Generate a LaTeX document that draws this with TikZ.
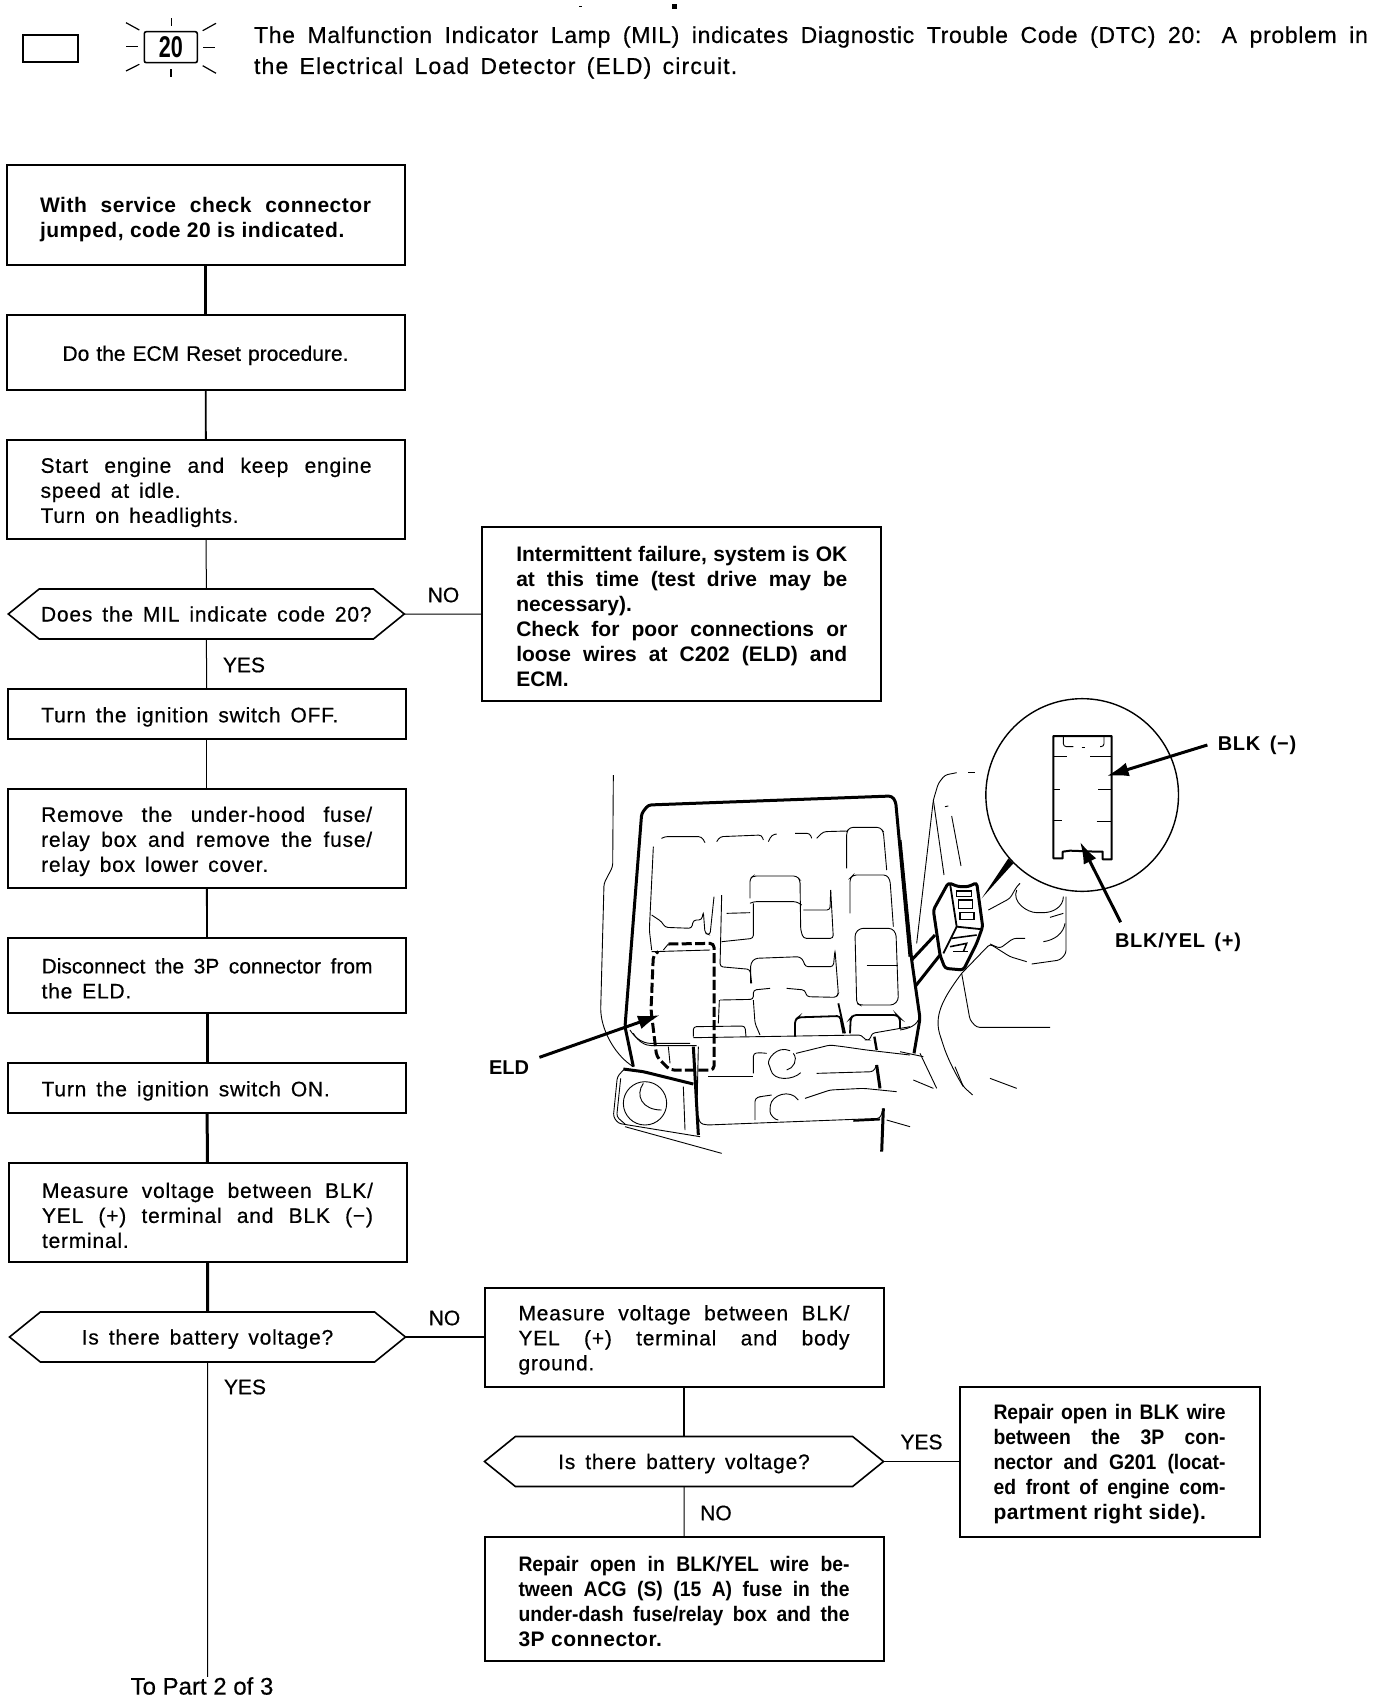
\documentclass[tikz,border=0pt]{standalone}
\usepackage{fontspec}
\setmainfont[LetterSpace=3.7,WordSpace=1.5,UprightFeatures={FakeBold=0.5}]{Liberation Sans}
\newfontfamily\plainfont[UprightFeatures={FakeBold=0.5}]{Liberation Sans}
\newfontfamily\notefont[LetterSpace=3,UprightFeatures={FakeBold=0.5}]{Liberation Sans}
\newfontfamily\notewide[LetterSpace=5,WordSpace=1.5,UprightFeatures={FakeBold=0.5}]{Liberation Sans}
\newfontfamily\jumpfont[LetterSpace=2.5]{Liberation Sans}
\newfontfamily\lampfont[FakeStretch=0.72]{Liberation Sans}
\newfontfamily\repairfont[FakeStretch=0.92]{Liberation Sans}
\usetikzlibrary{arrows.meta,positioning,shapes.symbols}

\begin{document}
\begin{tikzpicture}[x=0.5pt,y=-0.5pt,node distance=25pt,>=Latex,
    textdrop/.style={execute at begin node={\rule{0pt}{#1}}},
    stepbox/.style={draw,line width=1pt,outer sep=0pt,inner xsep=0pt,inner ysep=0pt,minimum width=199pt,text width=165.5pt,align=justify,textdrop=10.5pt,font=\fontsize{10.5}{12.5}\selectfont},
    boldbox/.style={stepbox,textdrop=0pt,font=\fontsize{10.5}{12.5}\selectfont\plainfont\bfseries},
    fixbox/.style={stepbox,textdrop=9.5pt,font=\fontsize{10.5}{12.5}\selectfont\bfseries},
    askbox/.style={draw,line width=.8pt,outer sep=0pt,inner sep=0pt,signal,signal to=west and east,signal pointer angle=78,minimum width=198pt,minimum height=25pt,text height=7.5pt,text depth=0pt,font=\fontsize{10.5}{12.5}\selectfont},
    answer/.style={inner sep=0pt,font=\fontsize{10.5}{12.5}\selectfont\plainfont},
    callout/.style={inner sep=5pt,font=\fontsize{10}{12}\selectfont\bfseries},
    leader/.style={->,line width=1.5pt,>={Latex[length=11pt,width=7pt]}},
    wirethin/.style={line width=.5pt},
    wiremid/.style={line width=.9pt},
    wirefat/.style={line width=1.5pt},
    sketch/.style={line width=.45pt,rounded corners=1.5pt},
    heavy/.style={line width=1.5pt,rounded corners=1.5pt},
    eldmark/.style={line width=1.5pt,rounded corners=2pt,dash pattern=on 5pt off 1.7pt}]
  \useasboundingbox (0,0) rectangle (1376,1700);

  \node[draw,line width=1.4pt,minimum width=27.5pt,minimum height=13.5pt,inner sep=0pt] (lampkey) at (50.5,48.5) {};
  \node[draw,line width=.8pt,rounded corners=1pt,minimum width=26.5pt,minimum height=15.5pt,inner sep=0pt,font=\fontsize{15}{15}\selectfont\lampfont\bfseries] (codeflash) at (170.8,47.2) {20};
  \foreach \xa/\ya/\xb/\yb in {171.3/18.3/171.3/26,171/69.3/171/77.3,126/46.7/138.3/46.7,203.3/47.7/215/47.7,126/22.7/139.3/30,202.7/30.7/216/23.3,126/71/139.3/64.3,202.7/65.7/216/73.3}
    \draw[line width=.6pt] (\xa,\ya) -- (\xb,\yb);
  \node[text width=557pt,align=justify,inner sep=0pt,font=\fontsize{11.5}{15.5}\selectfont] (lampnote) at (811,52.5) {\notefont The Malfunction Indicator Lamp (MIL) indicates Diagnostic Trouble Code (DTC) 20: A problem in\linebreak {\notewide the Electrical Load Detector (ELD) circuit.}};
  \fill (672,4) rectangle (677,9);
  \fill (579,6) rectangle (582,7);

  \node[boldbox,textdrop=12pt,minimum height=50pt,font=\fontsize{10.5}{12.5}\selectfont\jumpfont\bfseries] (jumped) at (205.5,215) {With service check connector\linebreak jumped, code 20 is indicated.};
  \node[stepbox,textdrop=0pt,minimum height=37.5pt,below=of jumped,align=center] (reset) {\plainfont Do the ECM Reset procedure.};
  \node[stepbox,minimum height=49.5pt,below=of reset,xshift=.3pt] (idle) {Start engine and keep engine\linebreak speed at idle.\\Turn on headlights.};
  \node[askbox,below=of idle,xshift=.1pt] (askcode) {Does the MIL indicate code 20?};
  \node[stepbox,minimum height=25pt,below=of askcode,xshift=.2pt] (ignoff) {Turn the ignition switch OFF.};
  \node[stepbox,minimum height=49.5pt,below=of ignoff] (cover) {Remove the under-hood fuse/\linebreak relay box and remove the fuse/\linebreak relay box lower cover.};
  \node[stepbox,minimum height=37.5pt,below=of cover,xshift=.2pt] (unplug) {{\plainfont Disconnect the 3P connector from}\linebreak the ELD.};
  \node[stepbox,minimum height=25pt,below=of unplug] (ignon) {Turn the ignition switch ON.};
  \node[stepbox,minimum height=49.5pt,below=of ignon,xshift=.2pt] (measure) {Measure voltage between BLK/\linebreak YEL (+) terminal and BLK (−)\linebreak terminal.};
  \node[askbox,below=of measure] (askbatt) {Is there battery voltage?};
  \node[inner sep=0pt,font=\fontsize{12}{14}\selectfont\plainfont] (nextpart) at (202,1686) {To Part 2 of 3};

  \node[boldbox,minimum width=199.5pt,minimum height=87pt,right=39pt of askcode] (okfail) {Intermittent failure, system is OK\linebreak at this time (test drive may be\linebreak necessary).\\Check for poor connections or\linebreak loose wires at C202 (ELD) and\linebreak ECM.};
  \node[stepbox,minimum width=199.5pt,minimum height=49.5pt,right=39.5pt of askbatt] (bodyground) {Measure voltage between BLK/\linebreak YEL (+) terminal and body\linebreak ground.};
  \node[askbox,below=of bodyground,minimum width=199.5pt] (askbody) {Is there battery voltage?};
  \node[fixbox,minimum width=199.5pt,minimum height=62pt,below=of askbody] (fixyel) {{\repairfont Repair open in BLK/YEL wire be-}\linebreak {\repairfont tween ACG (S) (15 A) fuse in the}\linebreak {\repairfont under-dash fuse/relay box and the}\linebreak {\jumpfont 3P connector.}};
  \node[fixbox,minimum width=150pt,text width=116pt,minimum height=75pt,right=38pt of askbody] (fixblk) {{\repairfont Repair open in BLK wire}\linebreak {\repairfont between the 3P con-}\linebreak {\repairfont nector and G201 (locat-}\linebreak {\repairfont ed front of engine com-}\linebreak {\jumpfont partment right side).}};

  \draw[wirefat] (jumped) -- (reset);
  \draw[wiremid] (reset) -- (idle);
  \draw[wirethin] (idle) -- (askcode);
  \draw[wirethin] (askcode) -- (ignoff);
  \draw[wirethin] (ignoff) -- (cover);
  \draw[wiremid] (cover) -- (unplug);
  \draw[wirefat] (unplug) -- (ignon);
  \draw[wirefat] (ignon) -- (measure);
  \draw[wirefat] (measure) -- (askbatt);
  \draw[wirethin] (askbatt) -- (askbatt |- nextpart.north);
  \draw[wirethin] (askcode) -- (okfail);
  \draw[wiremid] (askbatt) -- (bodyground);
  \draw[wiremid] (bodyground) -- (askbody);
  \draw[wirethin] (askbody) -- (fixyel);
  \draw[wiremid] (askbody) -- (fixblk);

  \node[answer] (nocode) at (443.5,595) {NO};
  \node[answer] (yescode) at (244,665) {YES};
  \node[answer] (nobatt) at (444.5,1318) {NO};
  \node[answer] (yesbatt) at (245,1387) {YES};
  \node[answer] (yesbody) at (921.5,1442) {YES};
  \node[answer] (nobody) at (716,1513) {NO};

  \begin{scope}[shift={(590,770)},x=0.16667pt,y=-0.16667pt]
    \draw[heavy] (130,890) -- (105,770) -- (155,130) -- (175,105) -- (905,78) -- (917,95) -- (960,560);
    \draw[heavy] (100,897) -- (160,905) -- (310,942);
    \draw[heavy] (310,830) -- (325,1095);
    \draw[sketch] (70,15) -- (68,290) -- (42,340) -- (32,720) .. controls (38,790) and (80,860) .. (130,890);
    \draw[sketch] (100,900) -- (82,920) -- (70,1040) -- (85,1060) -- (330,1100);
    \draw[sketch] (92,925) -- (80,1040) -- (105,1062);
    \draw[sketch] (165,1000) circle [radius=65];
    \draw[sketch] (160,940) .. controls (135,975) and (155,1020) .. (215,1020);
    \draw[sketch] (280,950) -- (285,1080);
    \draw[sketch] (105,1070) -- (395,1150);
    \draw[sketch] (190,230) -- (178,480) -- (185,540);
    \draw[sketch] (215,205) -- (222,200) -- (335,200) -- (345,218);
    \draw[sketch] (380,215) -- (390,200) -- (515,195) -- (520,210);
    \draw[sketch] (535,215) -- (545,195) -- (560,192);
    \draw[sketch] (615,190) -- (660,190) -- (665,205);
    \draw[sketch] (680,205) -- (700,185) -- (770,183);
    \draw[sketch] (770,295) -- (770,185) -- (780,172) -- (870,172) -- (880,185) -- (890,300);
    \draw[sketch] (480,385) -- (480,325) -- (490,318) -- (620,318) -- (630,330) -- (632,480) -- (640,505) -- (730,505) -- (722,360);
    \draw[sketch] (640,420) -- (720,420) -- (722,360);
    \draw[sketch] (480,400) -- (490,395) -- (620,395) -- (635,405);
    \draw[sketch] (490,400) -- (490,505) -- (395,515);
    \draw[sketch] (395,375) -- (390,590) -- (480,598) -- (485,640);
    \draw[sketch] (410,430) -- (480,428);
    \draw[sketch] (482,640) -- (482,580) -- (495,565) -- (630,560) -- (642,575) -- (645,590) -- (730,590) -- (735,540) -- (745,670) -- (740,682) -- (650,680) -- (645,660) -- (590,655);
    \draw[sketch] (390,690) -- (490,688) -- (490,660) -- (540,655);
    \draw[sketch] (490,690) -- (495,760) -- (510,795);
    \draw[sketch] (388,690) -- (385,760);
    \draw[line width=.9pt] (745,700) -- (765,790);
    \draw[sketch] (780,430) -- (780,325) -- (790,315) -- (890,315) -- (900,330) -- (910,470);
    \draw[sketch] (800,700) -- (795,490) -- (810,475) -- (905,475) -- (918,490) -- (925,690) -- (910,705) -- (810,705) -- cycle;
    \draw[sketch] (830,585) -- (925,585);
    \draw[sketch,line width=.9pt] (615,800) -- (615,750) -- (625,742) -- (750,738) -- (760,790);
    \draw[sketch,line width=.9pt] (780,790) -- (782,745) -- (790,735) -- (920,735) -- (930,745) -- (930,775);
    \draw[sketch] (120,780) .. controls (135,805) and (160,820) .. (190,820) -- (300,820);
    \draw[sketch] (130,790) .. controls (145,815) and (165,827) .. (195,827) -- (320,827);
    \draw[sketch] (310,800) -- (310,770) -- (465,768) -- (468,800);
    \draw[sketch] (310,803) -- (815,795) -- (825,810) -- (840,810) -- (845,790) -- (960,770);
    \draw[line width=1.2pt] (853,800) -- (860,840);
    \draw[sketch] (185,435) -- (215,455) -- (225,472) -- (305,475) -- (310,450) -- (335,450) -- (340,425) -- (345,490) -- (360,495) -- (372,380);
    \draw[sketch] (185,545) -- (360,540);
    \draw[sketch] (220,540) -- (235,522);
    \draw[eldmark] (235,522) -- (372,520) -- (372,900) -- (240,900) -- (200,860) -- (183,720) -- (190,555) -- (205,545);
    \draw[sketch] (235,830) -- (240,880);
    \draw[sketch] (490,910) -- (490,850) -- (510,848) -- (530,850);
    \draw[sketch] (600,842) .. controls (560,825) and (530,870) .. (540,890) .. controls (550,935) and (610,930) .. (632,908);
    \draw[sketch] (610,850) .. controls (625,870) and (610,895) .. (590,900);
    \draw[sketch] (618,850) -- (720,825) -- (760,830) -- (830,840) -- (960,855);
    \draw[line width=1.5pt] (860,885) -- (870,955);
    \draw[sketch] (355,918) -- (490,918);
    \draw[sketch] (680,910) -- (850,905) -- (860,885);
    \draw[sketch] (645,985) -- (720,960) -- (820,955) -- (920,965);
    \draw[sketch] (495,1050) -- (495,985) -- (510,980) -- (545,975);
    \draw[sketch] (625,990) .. controls (600,955) and (545,975) .. (540,1015) .. controls (540,1035) and (555,1050) .. (565,1050);
    \draw[sketch] (325,1040) -- (330,1060) -- (350,1065) -- (870,1045) -- (880,1015);
    \draw[line width=1.1pt] (790,1052) -- (870,1048);
    \draw[line width=1.5pt] (880,1015) -- (875,1145);
    \draw[sketch] (890,1050) -- (960,1070);
    \draw[sketch] (325,830) -- (320,1060);
    \coordinate (eldtip) at (210,735);
  \end{scope}

  \begin{scope}[shift={(900,690)},x=0.16667pt,y=-0.16667pt]
    \draw[line width=.7pt] (546.5,315) circle [radius=289];
    \draw[line width=1pt,line join=round] (460,138) -- (635,138) -- (635,508) -- (608,508) -- (608,485) -- (590,485) -- (510,482) -- (488,485) -- (488,505) -- (460,505) -- cycle;
    \draw[sketch] (490,140) -- (490,170) -- (520,170);
    \draw[sketch] (545,172) -- (555,172);
    \draw[sketch] (600,170) -- (612,170) -- (612,140);
    \draw[sketch] (460,198) -- (500,198);
    \draw[sketch] (570,198) -- (635,198);
    \draw[sketch] (460,297) -- (480,297);
    \draw[sketch] (595,297) -- (635,297);
    \draw[sketch] (460,392) -- (485,392);
    \draw[sketch] (590,393) -- (635,393);
    \coordinate (blktip) at (620,258);
    \coordinate (yeltip) at (540,455);
    \draw[heavy] (0,450) -- (35,810) -- (60,985) -- (42,1090);
    \draw[heavy] (145,578) -- (175,590) -- (205,590) -- (230,578) -- (248,710) -- (230,760) -- (190,840) -- (135,835) -- (120,795) -- (100,660) -- cycle;
    \draw[line width=.9pt] (150,580) -- (170,710) -- (248,718);
    \draw[line width=.9pt] (170,710) -- (130,790);
    \draw[line width=.8pt] (170,603) rectangle (215,620);
    \draw[line width=.8pt] (175,630) rectangle (218,655);
    \draw[line width=.8pt] (180,668) rectangle (222,688);
    \draw[line width=.8pt] (155,745) -- (230,735);
    \draw[line width=.8pt] (150,770) -- (200,760) -- (190,785);
    \draw[line width=.8pt] (160,785) -- (205,785);
    \fill (245,625) -- (325,505) -- (340,520) -- cycle;
    \draw[heavy] (105,735) -- (35,810);
    \draw[heavy] (120,795) -- (45,890);
    \draw[sketch] (50,760) -- (100,330) -- (115,280) -- (135,255) -- (170,248);
    \draw[sketch] (205,248) -- (225,248);
    \draw[sketch] (100,330) -- (132,555);
    \draw[sketch] (135,350) -- (145,348);
    \draw[sketch] (155,378) -- (183,528);
    \draw[sketch] (265,660) -- (330,625) -- (350,590) -- (360,580);
    \draw[sketch] (350,600) .. controls (335,635) and (380,668) .. (420,668) .. controls (460,668) and (490,650) .. (490,620);
    \draw[sketch] (498,620) -- (498,790) -- (480,810) -- (395,822);
    \draw[sketch] (450,682) -- (490,670);
    \draw[sketch] (430,755) .. controls (465,750) and (490,730) .. (495,700);
    \draw[sketch] (380,815) -- (330,800) -- (270,762) -- (185,850);
    \draw[sketch] (270,762) -- (300,775) -- (340,745) -- (375,745);
    \draw[sketch] (185,850) .. controls (125,930) and (100,980) .. (125,1050) .. controls (140,1100) and (165,1150) .. (190,1190);
    \draw[sketch] (185,850) -- (210,990) -- (230,1012) -- (450,1012);
    \draw[sketch] (60,1090) -- (110,1195);
    \draw[sketch] (0,1020) .. controls (30,1015) and (50,1005) .. (58,985);
    \draw[sketch] (0,1085) -- (70,1100);
    \draw[sketch] (40,1170) -- (100,1195);
    \draw[sketch] (270,1165) -- (350,1195);
    \draw[sketch] (165,1130) -- (190,1190) -- (218,1215);
  \end{scope}

  \node[callout,font=\fontsize{10}{12}\selectfont\plainfont\bfseries] (eldlabel) at (509,1068) {ELD};
  \node[callout] (blklabel) at (1257,745) {BLK (−)};
  \node[callout] (yellabel) at (1178,942) {BLK/YEL (+)};
  \draw[leader] (eldlabel) -- (eldtip);
  \draw[leader] (blklabel.west) -- (blktip);
  \draw[leader] ([xshift=8pt]yellabel.north west) -- (yeltip);
\end{tikzpicture}
\end{document}
